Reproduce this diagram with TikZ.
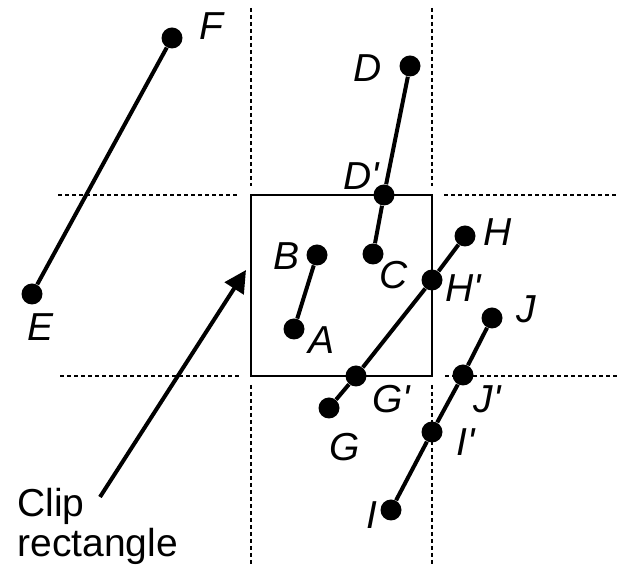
\documentclass[tikz,border=0pt]{standalone}
\usepackage{fontspec}
\setmainfont{Liberation Sans}
\usetikzlibrary{arrows.meta}
\newcommand{\lprime}{\textquotesingle}
\begin{document}
\begin{tikzpicture}[x=0.5pt,y=-0.5pt,
  dot/.style={circle,fill,inner sep=0pt,minimum size=10.5pt},
  seg/.style={line width=2pt},
  edge/.style={line width=0.65pt,dash pattern=on 2pt off 1.5pt},
  lbl/.style={font=\fontsize{19.5}{20}\selectfont\itshape,inner sep=0pt},
  txt/.style={font=\fontsize{19.5}{20}\selectfont,inner sep=0pt,anchor=base west}]
\useasboundingbox (0,0) rectangle (617,566);
% extended edges of the clip rectangle
\draw[edge] (251,8)--(251,186) (251,385)--(251,566);
\draw[edge] (432,8)--(432,186) (432,385)--(432,566);
\draw[edge] (58,195)--(238,195) (444,195)--(617,195);
\draw[edge] (60,376)--(239,376) (445,376)--(617,376);
\draw[line width=0.75pt] (251,195) rectangle (432,376);
% end points
\node[dot] (F) at (172,38) {};
\node[dot] (E) at (32,294) {};
\node[dot] (D) at (410,66) {};
\node[dot] (Dp) at (384,195) {};
\node[dot] (C) at (373,254) {};
\node[dot] (B) at (317,255) {};
\node[dot] (A) at (294,329) {};
\node[dot] (H) at (465,236) {};
\node[dot] (Hp) at (432,280) {};
\node[dot] (Gp) at (356,376) {};
\node[dot] (G) at (329,408) {};
\node[dot] (J) at (492,318) {};
\node[dot] (Jp) at (463,375) {};
\node[dot] (Ip) at (432,432) {};
\node[dot] (I) at (391,510) {};
% segments
\draw[seg] (E)--(F);
\draw[seg] (D)--(Dp)--(C);
\draw[seg] (A)--(B);
\draw[seg] (H)--(Hp)--(Gp)--(G);
\draw[seg] (J)--(Jp)--(Ip)--(I);
% labels
\node[lbl] (lF) at (211,26) {F};
\node[lbl] (lE) at (41,327) {E};
\node[lbl] (lD) at (368,68) {D};
\node[lbl] (lDp) at (361,176) {D\lprime};
\node[lbl] (lC) at (394,275) {C};
\node[lbl] (lB) at (287,256) {B};
\node[lbl] (lA) at (322,340) {A};
\node[lbl] (lH) at (498,232) {H};
\node[lbl] (lHp) at (463,288) {H\lprime};
\node[lbl] (lGp) at (391,399) {G\lprime};
\node[lbl] (lG) at (345,447) {G};
\node[lbl] (lJ) at (526,309) {J};
\node[lbl] (lJp) at (487,399) {J\lprime};
\node[lbl] (lIp) at (466,442) {I\lprime};
\node[lbl] (lI) at (372,515) {I};
% pointer to the clip rectangle
\node[txt] (clip) at (17,517) {Clip};
\node[txt] (rect) at (17,557) {rectangle};
\coordinate (tail) at (100,497);
\coordinate (tip) at (246,270);
\draw[seg,-{Triangle[length=11pt,width=11pt]}] (tail)--(tip);
\end{tikzpicture}
\end{document}
